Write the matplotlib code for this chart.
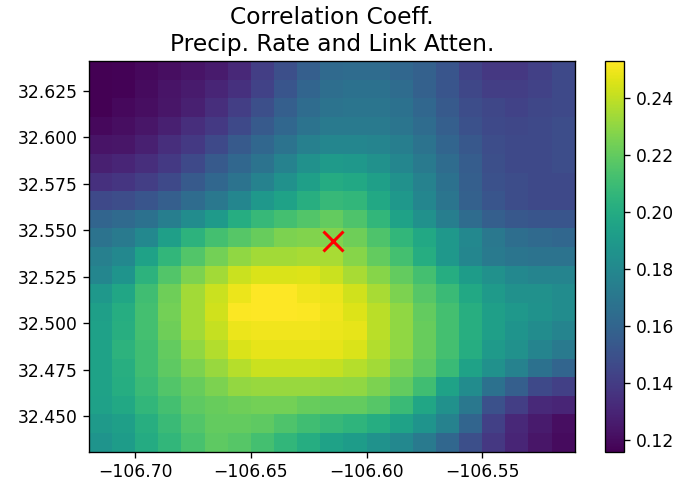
import numpy as np
import matplotlib
matplotlib.use("Agg")
import matplotlib.pyplot as plt

# grid centres (deg)
lon = [-106.715, -106.705, -106.695, -106.685, -106.675, -106.665, -106.655,
       -106.645, -106.635, -106.625, -106.615, -106.605, -106.595, -106.585,
       -106.575, -106.565, -106.555, -106.545, -106.535, -106.525, -106.515]
# rows listed top (north) to bottom (south)
lat = [32.636, 32.626, 32.616, 32.606, 32.596, 32.586, 32.576, 32.566, 32.556,
       32.546, 32.536, 32.526, 32.516, 32.506, 32.496, 32.486, 32.476, 32.466,
       32.456, 32.446, 32.436]

# correlation between precip rate and link attenuation
corr = [
    [0.116, 0.117, 0.119, 0.121, 0.123, 0.126, 0.131, 0.141, 0.149, 0.157, 0.163, 0.164, 0.164, 0.161, 0.158, 0.152, 0.143, 0.138, 0.138, 0.142, 0.146],
    [0.116, 0.117, 0.120, 0.123, 0.126, 0.130, 0.135, 0.143, 0.152, 0.160, 0.165, 0.167, 0.167, 0.164, 0.158, 0.152, 0.145, 0.141, 0.141, 0.143, 0.146],
    [0.116, 0.119, 0.121, 0.124, 0.128, 0.134, 0.141, 0.149, 0.157, 0.164, 0.168, 0.169, 0.169, 0.167, 0.161, 0.154, 0.148, 0.145, 0.143, 0.145, 0.146],
    [0.119, 0.121, 0.124, 0.128, 0.134, 0.139, 0.146, 0.154, 0.161, 0.168, 0.172, 0.172, 0.172, 0.169, 0.164, 0.157, 0.150, 0.146, 0.145, 0.146, 0.148],
    [0.123, 0.124, 0.128, 0.134, 0.139, 0.146, 0.154, 0.161, 0.168, 0.175, 0.179, 0.179, 0.178, 0.174, 0.168, 0.160, 0.153, 0.148, 0.146, 0.146, 0.148],
    [0.128, 0.130, 0.134, 0.139, 0.146, 0.154, 0.161, 0.168, 0.176, 0.185, 0.190, 0.189, 0.185, 0.179, 0.172, 0.164, 0.156, 0.149, 0.146, 0.146, 0.148],
    [0.135, 0.137, 0.141, 0.146, 0.154, 0.161, 0.168, 0.176, 0.185, 0.193, 0.200, 0.198, 0.193, 0.185, 0.176, 0.167, 0.157, 0.150, 0.148, 0.146, 0.146],
    [0.146, 0.148, 0.152, 0.157, 0.164, 0.171, 0.179, 0.189, 0.195, 0.202, 0.208, 0.206, 0.198, 0.189, 0.179, 0.169, 0.158, 0.152, 0.148, 0.146, 0.146],
    [0.160, 0.163, 0.167, 0.174, 0.182, 0.190, 0.201, 0.208, 0.212, 0.216, 0.220, 0.215, 0.206, 0.195, 0.185, 0.174, 0.164, 0.157, 0.153, 0.152, 0.152],
    [0.168, 0.172, 0.180, 0.193, 0.204, 0.212, 0.217, 0.221, 0.226, 0.227, 0.227, 0.223, 0.215, 0.206, 0.198, 0.189, 0.180, 0.171, 0.165, 0.163, 0.161],
    [0.175, 0.180, 0.195, 0.206, 0.216, 0.224, 0.230, 0.234, 0.234, 0.235, 0.235, 0.228, 0.220, 0.212, 0.201, 0.189, 0.179, 0.172, 0.169, 0.168, 0.168],
    [0.179, 0.187, 0.204, 0.216, 0.226, 0.234, 0.242, 0.245, 0.245, 0.246, 0.242, 0.235, 0.228, 0.220, 0.212, 0.201, 0.191, 0.185, 0.180, 0.178, 0.178],
    [0.189, 0.197, 0.211, 0.223, 0.234, 0.242, 0.249, 0.253, 0.253, 0.250, 0.249, 0.243, 0.235, 0.226, 0.217, 0.209, 0.198, 0.190, 0.185, 0.185, 0.182],
    [0.193, 0.201, 0.212, 0.224, 0.234, 0.243, 0.252, 0.253, 0.253, 0.252, 0.250, 0.246, 0.239, 0.230, 0.220, 0.212, 0.202, 0.193, 0.189, 0.186, 0.182],
    [0.194, 0.202, 0.212, 0.223, 0.234, 0.241, 0.249, 0.250, 0.250, 0.250, 0.249, 0.248, 0.239, 0.230, 0.221, 0.212, 0.202, 0.193, 0.187, 0.182, 0.178],
    [0.195, 0.204, 0.211, 0.220, 0.230, 0.237, 0.245, 0.248, 0.248, 0.248, 0.248, 0.245, 0.237, 0.230, 0.221, 0.212, 0.201, 0.190, 0.185, 0.178, 0.172],
    [0.195, 0.202, 0.211, 0.219, 0.226, 0.232, 0.238, 0.242, 0.242, 0.242, 0.241, 0.238, 0.234, 0.226, 0.219, 0.209, 0.195, 0.185, 0.176, 0.167, 0.160],
    [0.195, 0.201, 0.209, 0.216, 0.221, 0.226, 0.231, 0.232, 0.232, 0.232, 0.231, 0.230, 0.226, 0.220, 0.211, 0.195, 0.182, 0.167, 0.157, 0.146, 0.142],
    [0.194, 0.198, 0.206, 0.212, 0.219, 0.221, 0.223, 0.224, 0.224, 0.221, 0.220, 0.220, 0.217, 0.209, 0.197, 0.185, 0.171, 0.150, 0.141, 0.132, 0.130],
    [0.190, 0.193, 0.202, 0.209, 0.216, 0.220, 0.220, 0.219, 0.215, 0.211, 0.208, 0.205, 0.201, 0.195, 0.187, 0.176, 0.160, 0.142, 0.131, 0.126, 0.121],
    [0.187, 0.191, 0.200, 0.206, 0.213, 0.219, 0.217, 0.212, 0.206, 0.201, 0.195, 0.191, 0.186, 0.180, 0.172, 0.161, 0.149, 0.138, 0.130, 0.124, 0.120],
]

# link location
link_lon = -106.6146
link_lat = 32.5441

fig = plt.figure(figsize=(694 / 120, 487 / 120), dpi=120)
ax = fig.add_axes([0.1282, 0.0725, 0.6999, 0.8022])
cax = fig.add_axes([0.8713, 0.0725, 0.0282, 0.8022])

mesh = ax.pcolormesh(lon, lat, np.array(corr), shading="nearest", cmap="viridis")
ax.plot(link_lon, link_lat, "x", color="red", markersize=12, markeredgewidth=1.8)

ax.set_xticks([-106.70, -106.65, -106.60, -106.55])
ax.set_yticks([32.450, 32.475, 32.500, 32.525, 32.550, 32.575, 32.600, 32.625])
ax.ticklabel_format(useOffset=False)
ax.tick_params(labelsize=10.3)
ax.set_title("Correlation Coeff.\nPrecip. Rate and Link Atten.", fontsize=14)

cb = fig.colorbar(mesh, cax=cax)
cb.ax.tick_params(labelsize=10.3)

fig.savefig("out.png", dpi=120)
